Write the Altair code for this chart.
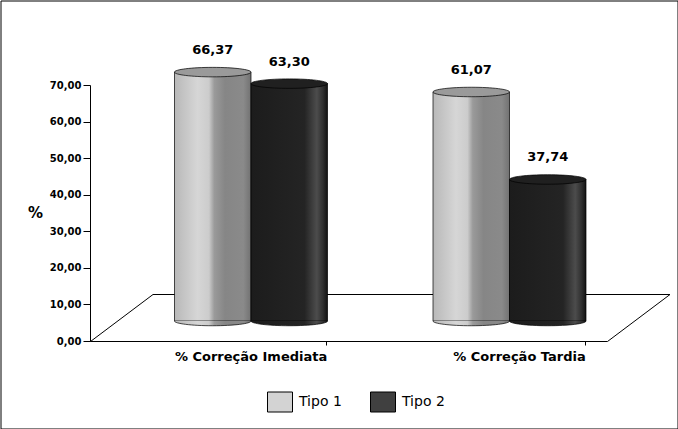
import altair as alt
import pandas as pd

# --- data -------------------------------------------------------------------
categorias = ["% Correção Imediata", "% Correção Tardia"]
series = ["Tipo 1", "Tipo 2"]
tipo_1 = [66.37, 61.07]
tipo_2 = [63.30, 37.74]
ticks_y = [0, 10, 20, 30, 40, 50, 60, 70]

rows = []
for cat, v1, v2 in zip(categorias, tipo_1, tipo_2):
    rows.append({"categoria": cat, "serie": series[0], "valor": v1})
    rows.append({"categoria": cat, "serie": series[1], "valor": v2})
df = pd.DataFrame(rows)

# --- geometry / style ---------------------------------------------------------
W, H = 677, 428
FONT = "DejaVu Sans"
X0, X1 = 90, 607          # front edge of the floor (x axis)
Y0, YTOP = 341, 85        # value axis: 0 and 70
DX, DY = 62.5, 47         # depth of the 3-D floor
OFF_RANGE = [84, 237]     # cylinders sit half-way into the floor depth
CYL_W = (OFF_RANGE[1] - OFF_RANGE[0]) / 2
SYM_SIZE = CYL_W ** 2
BAR_BASE, BAR_TOP = 320.5, 58   # projected 0 and 70 at mid depth

TOP_SHAPE = "M -1 0 A 1 0.124 0 1 0 1 0 A 1 0.124 0 1 0 -1 0 Z"
BOTTOM_SHAPE = "M -1 0 A 1 0.124 0 0 0 1 0"
LEGEND_SHAPE = "M -1 -0.8 L 1 -0.8 L 1 0.8 L -1 0.8 Z"

fmt = "replace(format(datum.value, '.2f'), '.', ',')"

x_scale = alt.Scale(domain=categorias, range=[X0, X1], paddingInner=0, paddingOuter=0)
off_scale = alt.Scale(domain=series, range=OFF_RANGE, paddingInner=0, paddingOuter=0)
axis_y = alt.Scale(domain=[0, 70], range=[Y0, YTOP], nice=False)
bar_y = alt.Scale(domain=[0, 70], range=[BAR_BASE, BAR_TOP], nice=False)

x_axis = alt.Axis(
    title=None, offset=-87, translate=0, bandPosition=0.916,
    labelAlign="right", labelBaseline="top", labelPadding=5, labelAngle=0,
    labelOffset=108,
    labelFont=FONT, labelFontSize=13, labelFontWeight="bold",
    tickSize=4, domainColor="black", tickColor="black", labelColor="black",
)


def grad(stops):
    return alt.LinearGradient(
        gradient="linear", x1=0, x2=1, y1=0, y2=0,
        stops=[alt.GradientStop(offset=o, color=c) for o, c in stops],
    )


body_fill = {
    "Tipo 1": grad([(0, "#b8b8b8"), (0.3, "#d6d6d6"), (0.45, "#cccccc"),
                    (0.52, "#9a9a9a"), (0.66, "#868686"), (0.9, "#8a8a8a"), (1, "#727272")]),
    "Tipo 2": grad([(0, "#1c1c1c"), (0.7, "#242424"), (0.86, "#4c4c4c"),
                    (0.94, "#303030"), (1, "#121212")]),
}
top_fill = {"Tipo 1": "#9a9a9a", "Tipo 2": "#202020"}

base = alt.Chart(df)
x_enc = alt.X("categoria:N", scale=x_scale, axis=x_axis)
off_enc = alt.XOffset("serie:N", scale=off_scale)
yb_enc = alt.Y("valor:Q", scale=bar_y, axis=None)

# --- axes + legend (invisible carrier layer) ----------------------------------
axes = base.mark_square(opacity=0).encode(
    x=x_enc,
    y=alt.Y(
        "valor:Q", scale=axis_y,
        axis=alt.Axis(
            values=ticks_y, labelExpr=fmt, offset=-90, translate=0, grid=False,
            tickSize=7, labelPadding=2, labelFont=FONT, labelFontSize=10,
            labelFontWeight="bold", labelColor="black",
            domainColor="black", tickColor="black",
            title="%", titleAngle=0, titleX=-55, titleY=212, titleAlign="center",
            titleBaseline="middle", titleFont=FONT, titleFontSize=15,
            titleFontWeight="bold", titleColor="black",
        ),
    ),
    color=alt.Color(
        "serie:N",
        scale=alt.Scale(domain=series, range=["#d3d3d3", "#404040"]),
        legend=alt.Legend(
            title=None, orient="none", direction="horizontal",
            legendX=266.5, legendY=388.5,
            symbolType=LEGEND_SHAPE, symbolSize=625, symbolOpacity=1,
            symbolStrokeColor="black", symbolStrokeWidth=1,
            labelFont=FONT, labelFontSize=14, labelColor="black",
            labelOffset=6, columnPadding=26,
        ),
    ),
)

# --- floor outline ------------------------------------------------------------
one = alt.Data(values=[{}])
floor = [
    alt.Chart(one).mark_rule(color="black", strokeWidth=1).encode(
        x=alt.value(X0), y=alt.value(Y0), x2=alt.value(X0 + DX), y2=alt.value(Y0 - DY)),
    alt.Chart(one).mark_rule(color="black", strokeWidth=1).encode(
        x=alt.value(X0 + DX), y=alt.value(Y0 - DY), x2=alt.value(X1 + DX), y2=alt.value(Y0 - DY)),
    alt.Chart(one).mark_rule(color="black", strokeWidth=1).encode(
        x=alt.value(X1), y=alt.value(Y0), x2=alt.value(X1 + DX), y2=alt.value(Y0 - DY)),
]

# --- cylinders ------------------------------------------------------------------
cyl = []
for s in series:
    sub = base.transform_filter(alt.datum.serie == s)
    cyl.append(sub.mark_bar(fill=body_fill[s], stroke="black", strokeWidth=0.7)
               .encode(x=x_enc, xOffset=off_enc, y=yb_enc))
    cyl.append(sub.mark_point(shape=BOTTOM_SHAPE, filled=True, fill=body_fill[s],
                              stroke="black", strokeWidth=0.7, opacity=1, size=SYM_SIZE)
               .encode(x=x_enc, xOffset=off_enc, y=alt.Y("zero:Q", scale=bar_y, axis=None))
               .transform_calculate(zero="0"))
    cyl.append(sub.mark_point(shape=TOP_SHAPE, filled=True, fill=top_fill[s],
                              stroke="black", strokeWidth=0.7, opacity=1, size=SYM_SIZE)
               .encode(x=x_enc, xOffset=off_enc, y=yb_enc))

labels = base.transform_calculate(
    rotulo="replace(format(datum.valor, '.2f'), '.', ',')"
).mark_text(dy=-22, font=FONT, fontSize=13, fontWeight="bold", color="black").encode(
    x=x_enc, xOffset=off_enc, y=yb_enc, text="rotulo:N")

chart = (
    alt.layer(axes, *floor, *cyl, labels)
    .resolve_scale(y="independent")
    .properties(width=W, height=H, padding=0.5, autosize="none", background="white")
    .configure_view(stroke="black", strokeWidth=1)
)

chart.save("out.html", embed_options={"renderer": "svg", "actions": False})
